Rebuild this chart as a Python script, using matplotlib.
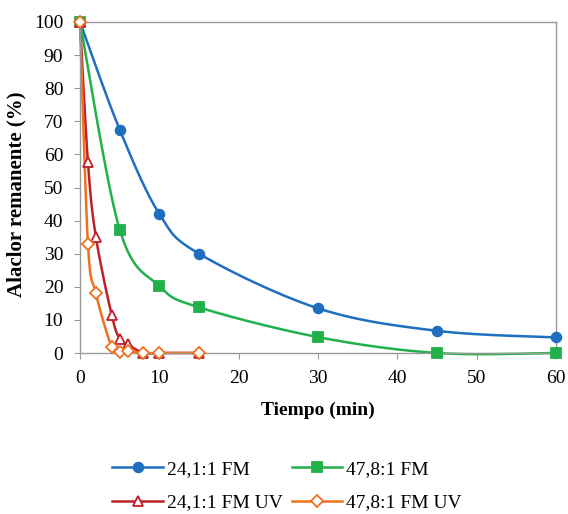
import numpy as np
import matplotlib
matplotlib.use("Agg")
import matplotlib.pyplot as plt
from matplotlib.lines import Line2D

plt.rcParams['font.family'] = ['Liberation Serif', 'DejaVu Serif']

t_fm = [0, 5, 10, 15, 30, 45, 60]
s1_fm = [100, 67.5, 42, 30, 13.5, 6.7, 4.7]
s2_fm = [100, 37.3, 20.2, 13.8, 4.8, 0, 0]
t_uv = [0, 1, 2, 4, 5, 6, 8, 10, 15]
s1_uv = [100, 57.6, 35.1, 11.4, 4.3, 2.6, 0, 0, 0]
s2_uv = [100, 33, 18, 1.8, 0.4, 0.6, 0, 0, 0]

labels = ['24,1:1 FM', '47,8:1 FM', '24,1:1 FM UV', '47,8:1 FM UV']
colors = ['#1f6fc0', '#22b04b', '#c0202a', '#f07020']


def smooth(x, y, n=30):
    x = np.asarray(x, float); y = np.asarray(y, float)
    xs, ys = [], []
    for i in range(len(x) - 1):
        p0 = np.array([x[max(i - 1, 0)], y[max(i - 1, 0)]])
        p1 = np.array([x[i], y[i]])
        p2 = np.array([x[i + 1], y[i + 1]])
        p3 = np.array([x[min(i + 2, len(x) - 1)], y[min(i + 2, len(x) - 1)]])
        c1 = p1 + (p2 - p0) / 6
        c2 = p2 - (p3 - p1) / 6
        tt = np.linspace(0, 1, n)[:, None]
        b = ((1 - tt) ** 3) * p1 + 3 * ((1 - tt) ** 2) * tt * c1 + 3 * (1 - tt) * tt ** 2 * c2 + tt ** 3 * p2
        xs.extend(b[:, 0]); ys.extend(b[:, 1])
    return xs, ys


fig = plt.figure(figsize=(5.68, 5.14), dpi=100)
ax = fig.add_axes([80 / 568, 1 - 353 / 514, 476 / 568, 331 / 514])

series = [(t_fm, s1_fm, 'o', True), (t_fm, s2_fm, 's', True),
          (t_uv, s1_uv, '^', False), (t_uv, s2_uv, 'D', False)]
ms = [7, 7, 7.5, 6]
handles = []
for (x, y, m, filled), c, lab, s in zip(series, colors, labels, ms):
    sx, sy = smooth(x, y)
    ax.plot(sx, sy, color=c, lw=1.8, zorder=2, clip_on=False)
    fc = c if filled else 'white'
    ax.plot(x, y, ls='none', marker=m, ms=s, mfc=fc, mec=c, mew=1.3, zorder=3, clip_on=False)
    handles.append(Line2D([0], [0], color=c, lw=1.8, marker=m, ms=s, mfc=fc, mec=c, mew=1.3))

ax.set_xlim(0, 60)
ax.set_ylim(0, 100)
ax.set_xticks(range(0, 61, 10))
ax.set_yticks(range(0, 101, 10))
for sp in ax.spines.values():
    sp.set_color('#999999')
    sp.set_linewidth(1.0)
ax.tick_params(direction='out', length=4, color='#999999', labelsize=14)
ax.tick_params(axis='y', pad=8)
ax.tick_params(axis='x', pad=8.5)
ax.set_xlabel('Tiempo (min)', fontsize=14, fontweight='bold', labelpad=10)
ax.set_ylabel('Alaclor remanente (%)', fontsize=15, fontweight='bold')
ax.yaxis.set_label_coords((26 - 80) / 476, (353 - 194.5) / 331)

order = [0, 2, 1, 3]
fig.legend([handles[i] for i in order], [labels[i] for i in order], loc='center',
           bbox_to_anchor=(287 / 568, 1 - 486 / 514),
           ncol=2, frameon=False, fontsize=14, handlelength=2.6,
           columnspacing=0.45, handletextpad=0.2, labelspacing=0.8)

fig.savefig('out.png', dpi=100)
